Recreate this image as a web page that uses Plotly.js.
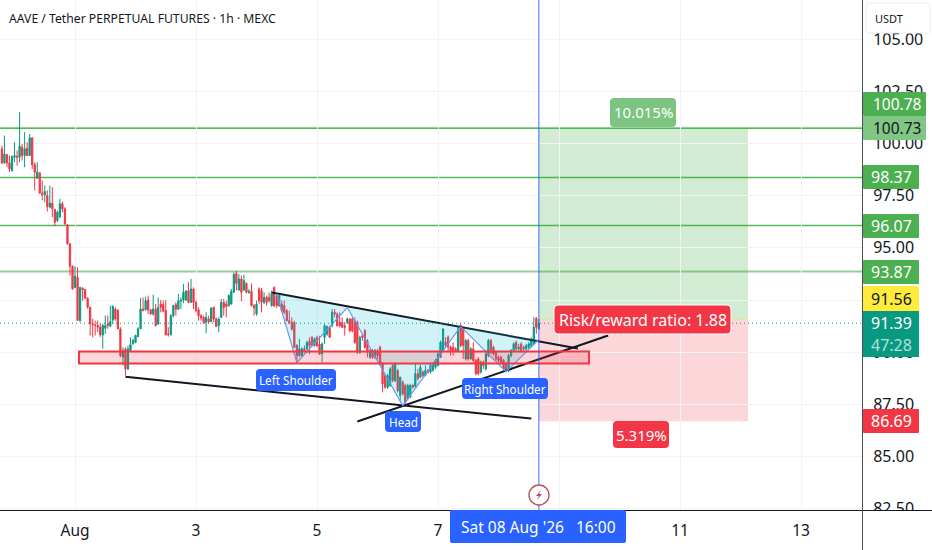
<!DOCTYPE html>
<html>
<head>
<meta charset="utf-8">
<script src="https://cdn.plot.ly/plotly-3.0.1.min.js"></script>
<style>html,body{margin:0;padding:0;background:#fff}#chart{width:932px;height:550px}</style>
</head>
<body>
<div id="chart"></div>
<script>
// hourly candles, first one at 2026-07-30 19:00
const firstCandle = Date.UTC(2026, 6, 30, 19);
const opens = [
99.74,99.07,99.46,99.07,98.70,99.34,99.39,99.34,99.82,99.42,
99.78,99.42,100.27,98.98,98.34,98.59,97.63,97.54,97.51,96.95,
97.14,96.84,96.31,96.47,97.11,96.87,96.10,95.19,94.12,93.11,
93.59,91.52,93.07,93.00,92.59,92.16,91.36,91.31,91.28,91.20,
90.83,91.15,91.36,91.25,
91.55,92.07,92.00,91.12,89.76,90.16,89.20,90.08,90.40,90.48,
90.75,91.12,92.07,92.03,92.50,92.03,91.83,92.07,91.35,92.31,
92.28,92.00,90.88,90.84,91.75,92.28,92.06,92.44,92.50,92.50,
92.95,92.39,93.03,92.39,92.03,91.75,91.67,91.43,91.59,91.47,
92.15,91.59,91.27,91.67,92.39,92.31,92.23,92.31,92.87,93.78,
92.98,93.51,92.98,93.30,92.87,92.92,92.23,
91.83,93.03,92.95,92.39,92.63,92.63,92.23,93.11,92.71,92.23,
92.31,92.23,91.99,91.51,91.43,91.43,90.32,89.84,89.84,90.16,
90.16,90.52,90.71,90.32,90.71,90.39,89.92,90.71,90.87,91.19,
91.27,91.91,91.83,91.43,91.43,91.27,91.43,91.59,91.59,91.51,
91.43,90.00,90.79,91.03,90.55,89.76,90.08,89.76,90.00,90.24,
89.44,88.88,88.32,88.40,89.36,88.64,89.12,
87.93,88.57,88.41,87.77,87.85,88.41,88.36,88.97,88.81,89.05,
88.89,89.12,89.05,89.12,89.28,89.36,89.76,90.08,90.48,90.72,
90.24,90.24,90.16,90.08,91.28,91.12,89.68,90.56,89.68,90.16,
89.60,89.68,89.05,89.52,89.20,89.84,90.56,90.24,90.00,89.76,
89.76,89.60,89.44,89.12,89.84,90.08,90.48,90.16,90.40,90.24,
90.16,90.24,90.32,90.40,91.63,91.12];
const highs = [
99.90,100.38,99.50,99.42,99.42,100.06,99.66,101.50,99.98,100.54,
100.06,100.46,100.30,99.10,99.10,98.63,98.23,97.99,97.75,97.99,
97.91,96.87,96.79,97.35,97.22,96.95,96.15,95.24,94.15,94.12,
94.07,93.11,93.11,93.03,92.63,92.16,91.60,91.52,91.52,91.36,
91.36,91.76,91.76,92.24,
92.23,92.15,92.07,91.20,90.24,90.24,90.32,90.72,90.64,90.84,
91.20,92.60,92.63,92.66,92.71,92.07,92.76,92.31,92.63,92.50,
92.47,92.50,91.20,91.83,92.28,92.39,92.79,92.63,93.27,92.98,
93.35,93.51,93.11,92.47,92.15,91.83,91.75,91.91,91.75,92.15,
92.19,91.67,91.67,92.55,92.55,92.47,92.79,93.03,93.83,93.91,
93.75,93.67,93.72,93.35,93.03,93.30,92.31,
92.47,93.11,93.08,92.87,92.71,92.87,92.95,93.14,92.79,92.76,
92.47,92.47,92.07,91.99,91.67,91.51,90.39,90.63,90.24,90.32,
90.55,90.71,90.79,90.71,90.79,90.79,90.47,91.35,91.27,91.27,
92.07,92.07,91.91,91.91,91.67,91.43,91.67,91.64,91.67,91.67,
91.51,90.79,90.87,91.11,90.63,90.16,90.16,90.16,90.16,90.32,
89.52,88.96,88.96,89.28,89.44,89.52,89.20,
88.81,88.65,88.49,88.49,88.49,88.49,89.44,89.20,89.40,89.12,
89.36,89.20,89.44,89.52,89.68,90.00,90.56,91.12,90.72,90.80,
90.32,90.48,90.24,91.20,91.36,91.20,90.64,90.64,90.24,90.48,
89.68,89.76,89.60,89.60,90.00,90.64,90.64,90.32,90.08,89.84,
89.84,89.68,89.52,89.92,90.16,90.48,90.56,90.40,90.48,90.32,
90.40,90.48,90.72,91.68,91.68,91.60];
const lows = [
99.02,99.02,98.86,98.63,98.66,99.10,98.94,99.10,99.18,98.86,
99.42,99.42,98.78,97.75,98.31,97.59,97.27,97.19,96.74,96.90,
96.47,96.04,96.23,96.47,96.71,96.10,95.16,93.67,93.00,93.07,
91.52,91.44,92.47,92.55,92.08,90.80,90.72,90.80,90.96,90.72,
90.16,90.88,91.12,91.20,
91.35,91.51,91.12,89.76,89.36,88.88,89.15,90.05,90.36,90.43,
90.72,91.12,91.96,92.00,91.83,91.80,91.75,91.24,91.32,91.91,
91.91,90.80,90.75,90.80,91.67,91.75,92.03,92.07,92.35,92.47,
92.35,92.36,92.07,91.91,91.51,91.51,91.35,90.91,91.39,91.43,
91.43,91.20,90.96,91.64,91.75,91.67,92.19,92.28,92.84,92.95,
92.95,92.44,92.95,92.82,92.79,92.19,91.75,
91.75,92.31,91.91,92.31,92.23,92.39,92.18,92.15,92.12,92.18,
91.91,91.83,91.48,91.35,91.03,90.20,89.52,89.79,89.79,90.00,
90.08,89.92,90.24,90.27,90.24,89.88,89.52,90.39,90.79,90.68,
91.19,91.67,91.23,91.19,91.16,90.79,91.35,90.95,90.95,90.39,
89.92,89.92,90.55,90.16,89.76,89.68,89.68,89.68,89.68,89.36,
88.08,88.24,88.24,88.35,88.56,88.56,88.08,
87.69,87.93,87.53,87.69,87.80,88.25,88.33,88.65,88.76,88.81,
88.85,88.97,88.97,89.08,89.20,89.33,89.72,90.00,90.24,90.00,
89.84,89.84,90.00,90.00,90.24,89.68,89.60,89.60,89.65,89.52,
88.89,88.89,88.97,89.20,89.12,89.76,89.92,89.84,89.60,89.52,
89.44,89.12,89.05,89.05,89.76,90.00,90.08,90.08,90.00,90.08,
90.08,90.16,90.24,90.35,90.88,91.09];
const closes = [
99.07,99.50,99.07,98.78,99.38,99.42,99.34,99.87,99.42,99.74,
99.42,100.27,98.98,98.63,98.63,97.63,97.54,97.70,96.98,97.14,
96.87,96.23,96.71,97.11,96.87,96.15,95.19,94.12,93.03,93.64,
91.52,93.11,92.99,92.59,92.16,91.36,91.31,91.28,91.20,90.83,
91.28,91.28,91.28,91.47,
92.20,91.59,91.12,89.84,90.08,89.20,90.16,90.36,90.56,90.80,
91.12,92.07,92.00,92.47,92.03,91.83,92.07,91.27,92.15,92.15,
91.96,90.84,90.84,91.75,92.23,92.06,92.47,92.50,92.87,92.92,
92.39,93.03,92.39,92.00,91.75,91.64,91.43,91.67,91.47,92.12,
91.59,91.24,91.59,92.39,92.15,92.19,92.71,92.92,93.72,93.30,
93.51,92.87,93.43,92.87,92.92,92.23,92.12,
92.31,92.47,92.39,92.63,92.39,92.47,92.79,92.23,92.23,92.71,
91.99,91.91,91.51,91.43,91.11,90.24,89.84,90.16,90.16,90.08,
90.47,90.32,90.32,90.63,90.32,89.92,90.39,91.27,91.23,90.71,
91.91,91.83,91.27,91.27,91.19,91.19,91.59,91.03,91.03,90.47,
90.00,90.71,90.71,90.24,90.08,90.08,89.76,90.08,89.84,89.44,
88.48,88.32,88.88,89.20,88.64,89.44,88.16,
88.81,88.01,87.61,88.41,88.41,88.33,88.97,88.73,89.28,88.89,
89.12,89.05,89.36,89.44,89.60,89.92,90.48,91.12,90.32,90.24,
90.08,90.08,90.08,91.12,90.32,90.32,90.56,89.68,90.16,89.60,
88.97,88.97,89.52,89.36,89.92,90.56,90.00,89.92,89.68,89.60,
89.52,89.20,89.12,89.84,90.08,90.40,90.16,90.24,90.08,90.16,
90.32,90.40,90.56,91.20,91.20,91.39];

const levelPrices = [100.73, 98.37, 96.07, 93.87];
const lastPrice = 91.39;
const entryPrice = 91.56;
const targetPrice = 100.73;
const stopPrice = 86.69;
const positionStart = '2026-08-08 16:00';
const positionEnd = '2026-08-12 03:00';
const zoneTop = 90.03, zoneBottom = 89.46;
const zoneStart = '2026-08-01 01:35', zoneEnd = '2026-08-09 11:55';
const lowerTrendTimes = ['2026-08-01 20:00', '2026-08-08 13:00'];
const lowerTrendPrices = [88.83, 86.82];
const risingTimes = ['2026-08-05 16:00', '2026-08-09 19:30'];
const risingPrices = [86.68, 90.80];
const neckTimes = ['2026-08-04 06:00', '2026-08-09 07:30'];
const neckPrices = [92.86, 90.18];
const patternTimes = ['2026-08-04 08:00','2026-08-04 16:00','2026-08-05 12:00',null,'2026-08-05 12:00','2026-08-06 10:00','2026-08-07 09:00',null,'2026-08-07 09:00','2026-08-08 03:00','2026-08-08 16:00'];
const patternPrices = [92.81,89.50,92.14,null,92.14,87.44,91.23,null,91.23,89.07,90.61];
const yTicks = [82.5,85,87.5,90,92.5,95,97.5,100,102.5,105];
const yTickText = ['82.50','85.00','87.50','90.00','92.50','95.00','97.50','100.00','102.50','105.00'];
const xTicks = ['2026-08-01','2026-08-03','2026-08-05','2026-08-07','2026-08-09','2026-08-11','2026-08-13'];
const xTickText = ['Aug','3','5','7','9','11','13'];
const xRange = ['2026-07-30 18:14','2026-08-14 00:12'];
const yRange = [82.394, 106.874];

const UP = '#089981', DOWN = '#f23645', GREEN = '#4caf50', BLUE = '#2962ff';
const times = opens.map((_, i) => new Date(firstCandle + i * 3600000).toISOString().slice(0, 16).replace('T', ' '));

const W = 862, H = 511;
const px = x => x / W, py = y => 1 - y / H;
function roundRect(x0, y0, x1, y1, r) {
  const X = px, Y = py;
  return `M${X(x0 + r)},${Y(y0)} L${X(x1 - r)},${Y(y0)} Q${X(x1)},${Y(y0)} ${X(x1)},${Y(y0 + r)} ` +
    `L${X(x1)},${Y(y1 - r)} Q${X(x1)},${Y(y1)} ${X(x1 - r)},${Y(y1)} L${X(x0 + r)},${Y(y1)} ` +
    `Q${X(x0)},${Y(y1)} ${X(x0)},${Y(y1 - r)} L${X(x0)},${Y(y0 + r)} Q${X(x0)},${Y(y0)} ${X(x0 + r)},${Y(y0)} Z`;
}
const shapes = [];
const annotations = [];
const FONT = '"Noto Sans", sans-serif';
function label(text, x0, y0, x1, y1, r, fill, color, size, outline, dx) {
  shapes.push({type: 'path', xref: 'paper', yref: 'paper', path: roundRect(x0, y0, x1, y1, r),
    fillcolor: fill, line: {color: outline || fill, width: outline ? 1 : 0}, layer: 'above'});
  annotations.push({xref: 'paper', yref: 'paper', x: px((x0 + x1) / 2 + (dx || 0)), y: py((y0 + y1) / 2), xanchor: 'center', yanchor: 'middle',
    text: text, showarrow: false, font: {family: FONT, size: size, color: color}});
}

// position tool zones
shapes.push({type: 'rect', xref: 'x', yref: 'y', x0: positionStart, x1: positionEnd, y0: entryPrice, y1: targetPrice,
  fillcolor: 'rgba(76,175,80,0.25)', line: {width: 0}, layer: 'below'});
shapes.push({type: 'rect', xref: 'x', yref: 'y', x0: positionStart, x1: positionEnd, y0: stopPrice, y1: entryPrice,
  fillcolor: 'rgba(242,54,69,0.2)', line: {width: 0}, layer: 'below'});
shapes.push({type: 'line', xref: 'x', yref: 'y', x0: positionStart, x1: positionEnd, y0: entryPrice, y1: entryPrice,
  line: {color: 'rgba(255,220,80,0.6)', width: 1}, layer: 'below'});
// support zone
shapes.push({type: 'rect', xref: 'x', yref: 'y', x0: zoneStart, x1: zoneEnd, y0: zoneBottom, y1: zoneTop,
  fillcolor: 'rgba(242,54,69,0.2)', line: {color: DOWN, width: 2}, layer: 'above'});
// horizontal levels
levelPrices.forEach((p, i) => shapes.push({type: 'line', xref: 'paper', yref: 'y', x0: 0, x1: 1, y0: p, y1: p,
  line: {color: i === 3 ? 'rgba(76,175,80,0.6)' : '#52b956', width: i === 3 ? 2 : 1.4}, layer: 'below'}));
shapes.push({type: 'line', xref: 'paper', yref: 'y', x0: 0, x1: 1, y0: 100.78, y1: 100.78,
  line: {color: 'rgba(76,175,80,0.3)', width: 1}, layer: 'below'});
shapes.push({type: 'line', xref: 'paper', yref: 'y', x0: 0, x1: 1, y0: lastPrice, y1: lastPrice,
  line: {color: UP, width: 1, dash: '1px,3px'}, layer: 'above'});
// vertical cursor
shapes.push({type: 'line', xref: 'x', yref: 'paper', x0: positionStart, x1: positionStart, y0: 0, y1: 1,
  line: {color: 'rgba(41,98,255,0.7)', width: 1.3}, layer: 'above'});
// time axis background clips the lowest price tick
shapes.push({type: 'rect', xref: 'paper', yref: 'paper', x0: px(863), x1: px(932), y0: py(511), y1: py(550),
  fillcolor: '#ffffff', line: {width: 0}, layer: 'above'});
// axis borders
shapes.push({type: 'line', xref: 'paper', yref: 'paper', x0: 0, x1: 932 / W, y0: py(510.5), y1: py(510.5), line: {color: '#131722', width: 1}, layer: 'above'});
shapes.push({type: 'line', xref: 'paper', yref: 'paper', x0: px(862.5), x1: px(862.5), y0: py(0), y1: py(550), line: {color: '#4a4e57', width: 1}, layer: 'above'});
// lightning marker
shapes.push({type: 'circle', xref: 'paper', yref: 'paper', x0: px(529), x1: px(549), y0: py(485), y1: py(505),
  fillcolor: '#ffffff', line: {color: '#b4545c', width: 1.4}, layer: 'above'});
shapes.push({type: 'path', xref: 'paper', yref: 'paper',
  path: `M${px(541.5)},${py(489.5)} L${px(536)},${py(496)} L${px(539)},${py(496)} L${px(536.5)},${py(500.5)} L${px(542)},${py(494)} L${px(539)},${py(494)} Z`,
  fillcolor: '#b4545c', line: {width: 0}, layer: 'above'});

// price scale labels
label('USDT', 866, 3, 930, 33, 3, '#ffffff', '#131722', 11, '#eceef2', -9.5);
label('100.78', 863, 92, 926, 116, 1, GREEN, '#ffffff', 15.5, null, 2.5);
label('100.73', 863, 116, 926, 140, 1, '#81c784', '#131722', 15.5, null, 2.5);
label('98.37', 863, 165, 919, 189, 1, GREEN, '#ffffff', 16);
label('96.07', 863, 214, 919, 238, 1, GREEN, '#ffffff', 16);
label('93.87', 863, 260, 919, 284, 1, GREEN, '#ffffff', 16);
label('91.56', 863, 286, 919, 311, 1, '#ffeb3b', '#131722', 16);
shapes.push({type: 'rect', xref: 'paper', yref: 'paper', x0: px(863), x1: px(919), y0: py(311), y1: py(357), fillcolor: UP, line: {width: 0}, layer: 'above'});
annotations.push({xref: 'paper', yref: 'paper', x: px(891), y: py(323), xanchor: 'center', yanchor: 'middle', text: '91.39', showarrow: false, font: {family: FONT, size: 16, color: '#ffffff'}});
annotations.push({xref: 'paper', yref: 'paper', x: px(891), y: py(345), xanchor: 'center', yanchor: 'middle', text: '47:28', showarrow: false, font: {family: FONT, size: 16, color: '#b5e0d6'}});
label('86.69', 863, 409, 919, 433, 1, DOWN, '#ffffff', 16);
// date label
label("Sat 08 Aug '26   16:00", 450, 510, 626, 543, 2, BLUE, '#ffffff', 15.5);
// pattern labels
label('Left Shoulder', 256, 369, 336, 391, 4, BLUE, '#ffffff', 11.7);
label('Head', 385, 411, 421, 432, 4, BLUE, '#ffffff', 11.7);
label('Right Shoulder', 462, 378, 548, 399, 4, BLUE, '#ffffff', 11.7);
// position labels
label('10.015%', 610, 98, 676, 127, 4, '#7cc47f', '#ffffff', 15);
label('Risk/reward ratio: 1.88', 554, 305, 731, 334, 5, DOWN, '#ffffff', 16, '#ffffff');
label('5.319%', 613, 421, 669, 448, 4, DOWN, '#ffffff', 15);
// title
annotations.push({xref: 'paper', yref: 'paper', x: px(7), y: py(18), xanchor: 'left', yanchor: 'middle',
  text: 'AAVE / Tether PERPETUAL FUTURES · 1h · MEXC', showarrow: false, font: {family: FONT, size: 12.2, color: '#131722'}});

const lineTrace = (x, y) => ({type: 'scatter', mode: 'lines', x, y, line: {color: '#131722', width: 2}, hoverinfo: 'skip', showlegend: false});
const traces = [
  {type: 'candlestick', x: times, open: opens, high: highs, low: lows, close: closes,
    increasing: {line: {color: UP, width: 1}, fillcolor: UP},
    decreasing: {line: {color: DOWN, width: 1}, fillcolor: DOWN},
    whiskerwidth: 0, hoverinfo: 'skip', showlegend: false},
  lineTrace(lowerTrendTimes, lowerTrendPrices),
  lineTrace(risingTimes, risingPrices),
  lineTrace(neckTimes, neckPrices),
  {type: 'scatter', mode: 'lines', x: patternTimes, y: patternPrices, fill: 'toself',
    fillcolor: 'rgba(0,188,212,0.18)', line: {color: '#6b97f4', width: 1.2}, connectgaps: false, hoverinfo: 'skip', showlegend: false}
];
const layout = {
  width: 932, height: 550,
  margin: {l: 0, r: 70, t: 0, b: 39, pad: 0},
  paper_bgcolor: '#ffffff', plot_bgcolor: '#ffffff',
  showlegend: false, hovermode: false, dragmode: false,
  font: {family: FONT, color: '#131722'},
  xaxis: {type: 'date', range: xRange, tickmode: 'array', tickvals: xTicks, ticktext: xTickText,
    showgrid: true, gridcolor: '#f1f3f6', gridwidth: 1, zeroline: false, showline: false,
    ticks: 'outside', ticklen: 5, tickcolor: 'rgba(0,0,0,0)', tickfont: {family: FONT, size: 15.5, color: '#131722'},
    rangeslider: {visible: false}, fixedrange: true},
  yaxis: {side: 'right', range: yRange, tickmode: 'array', tickvals: yTicks, ticktext: yTickText,
    showgrid: true, gridcolor: '#f1f3f6', gridwidth: 1, zeroline: false, showline: false,
    ticks: 'outside', ticklen: 7, tickcolor: 'rgba(0,0,0,0)', tickfont: {family: FONT, size: 16, color: '#131722'},
    fixedrange: true},
  shapes, annotations
};
Plotly.newPlot('chart', traces, layout, {displayModeBar: false, staticPlot: true});
</script>
</body>
</html>
